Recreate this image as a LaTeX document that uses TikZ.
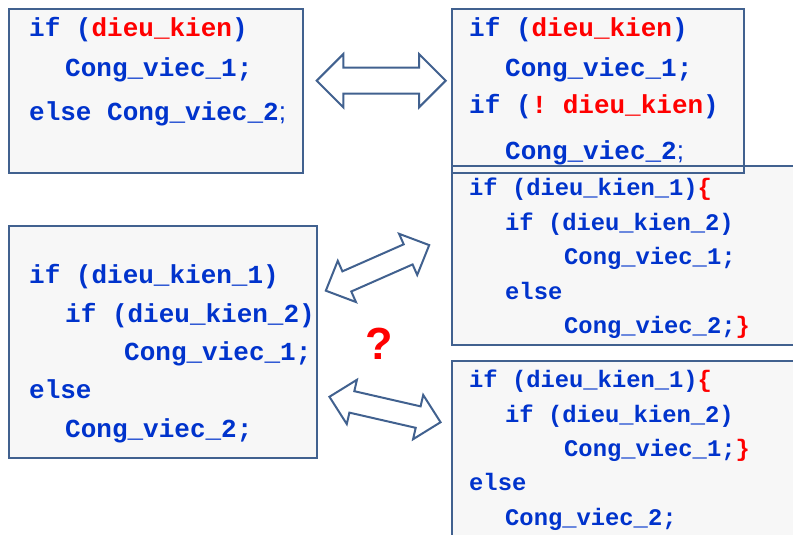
\documentclass[tikz,border=0pt]{standalone}
\usepackage{fontspec}
\setmonofont{Liberation Mono}
\newfontfamily\qfont{Liberation Sans}
\definecolor{codeblue}{HTML}{0033CC}
\definecolor{codered}{HTML}{FF0000}
\definecolor{boxline}{HTML}{41618F}
\definecolor{boxfill}{HTML}{F7F7F7}
\tikzset{
  codebox/.style={draw=boxline, line width=2pt, fill=boxfill},
  bigcode/.style={anchor=base west, inner sep=0pt, text=codeblue, font=\ttfamily\bfseries\fontsize{26}{30}\selectfont},
  smallcode/.style={anchor=base west, inner sep=0pt, text=codeblue, font=\ttfamily\bfseries\fontsize{23.8}{28}\selectfont},
  blockarrow/.style={draw=boxline, line width=2pt, fill=white, line join=miter},
  qmark/.style={anchor=base, inner sep=0pt, text=codered, font=\qfont\bfseries\fontsize{45}{50}\selectfont}
}
\newcommand{\rd}[1]{\textcolor{codered}{#1}}
\newcommand{\thinsemi}{{\qfont\mdseries ;}}
\newcommand{\dblarrow}[4]{% L H S K
  (-#1/2,0) -- (-#1/2+#4,-#2) -- (-#1/2+#4,-#3) -- (#1/2-#4,-#3) -- (#1/2-#4,-#2) -- (#1/2,0)
  -- (#1/2-#4,#2) -- (#1/2-#4,#3) -- (-#1/2+#4,#3) -- (-#1/2+#4,#2) -- cycle}
\begin{document}
\begin{tikzpicture}[x=1pt,y=-1pt]
\clip (0,0) rectangle (793,535);
\fill[white] (0,0) rectangle (793,535);

% box 1
\draw[codebox] (9,9) rectangle (302.5,173);
\node[bigcode] (b1l1) at (29,37) {if (\rd{dieu\_kien})};
\node[bigcode] (b1l2) at (65,77) {Cong\_viec\_1;};
\node[bigcode] (b1l3) at (29,121) {else Cong\_viec\_2\thinsemi};

% box 2 (fill), box 3, then box 2 border
\fill[boxfill] (452,9) rectangle (744,173);
\draw[codebox] (452,166) rectangle (810,345);
\draw[draw=boxline, line width=2pt] (452,9) rectangle (744,173);
\node[bigcode] (b2l1) at (469,37) {if (\rd{dieu\_kien})};
\node[bigcode] (b2l2) at (505,77) {Cong\_viec\_1;};
\node[bigcode] (b2l3) at (469,113.5) {if (\rd{! dieu\_kien})};
\node[bigcode] (b2l4) at (505,159.5) {Cong\_viec\_2\thinsemi};

\node[smallcode] (b3l1) at (469,195) {if (dieu\_kien\_1)\rd{\{}};
\node[smallcode] (b3l2) at (505,230) {if (dieu\_kien\_2)};
\node[smallcode] (b3l3) at (564,264.5) {Cong\_viec\_1;};
\node[smallcode] (b3l4) at (505,299) {else};
\node[smallcode] (b3l5) at (564,333.5) {Cong\_viec\_2;\rd{\}}};

% box 4
\draw[codebox] (452,361) rectangle (810,550);
\node[smallcode] (b4l1) at (469,387) {if (dieu\_kien\_1)\rd{\{}};
\node[smallcode] (b4l2) at (505,422) {if (dieu\_kien\_2)};
\node[smallcode] (b4l3) at (564,456) {Cong\_viec\_1;\rd{\}}};
\node[smallcode] (b4l4) at (469,490) {else};
\node[smallcode] (b4l5) at (505,525) {Cong\_viec\_2;};

% box 5
\draw[codebox] (9,226) rectangle (317,458);
\node[bigcode] (b5l1) at (29,283.5) {if (dieu\_kien\_1)};
\node[bigcode] (b5l2) at (65,322) {if (dieu\_kien\_2)};
\node[bigcode] (b5l3) at (124,360) {Cong\_viec\_1;};
\node[bigcode] (b5l4) at (29,398.5) {else};
\node[bigcode] (b5l5) at (65,437) {Cong\_viec\_2;};

% arrows
\begin{scope}[shift={(381.2,80.7)}]
  \draw[blockarrow] \dblarrow{129}{26.7}{13}{26.7};
\end{scope}
\begin{scope}[shift={(377.5,267.9)}, rotate=23.8]
  \draw[blockarrow] \dblarrow{113}{22.5}{11}{23};
\end{scope}
\begin{scope}[shift={(385,409.5)}, rotate=-12.9]
  \draw[blockarrow] \dblarrow{114}{22.7}{11}{23};
\end{scope}

\node[qmark] (q) at (378.8,359.3) {?};
\end{tikzpicture}
\end{document}
